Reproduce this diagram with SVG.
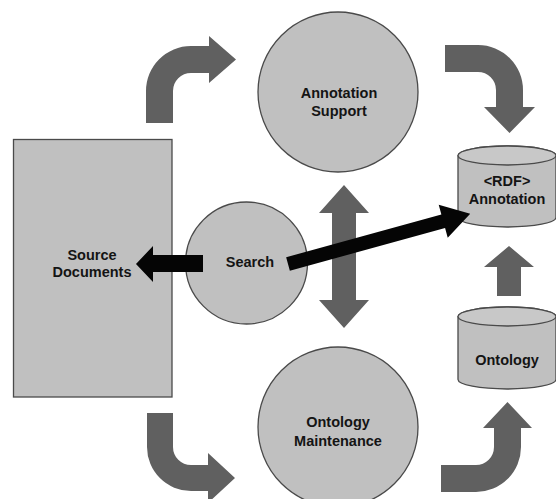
<svg xmlns="http://www.w3.org/2000/svg" width="556" height="499" viewBox="0 0 556 499">
<style>
.node{fill:#c0c0c0;stroke:#4a4a4a;stroke-width:1.3}
.top{fill:#c8c8c8;stroke:#4a4a4a;stroke-width:1.3}
.garrow{fill:#606060}
.barrow{fill:#050505}
text{font-family:"Liberation Sans",Arial,sans-serif;font-weight:bold;font-size:14.5px;fill:#141414;text-anchor:middle}
</style>
<rect x="0" y="0" width="556" height="499" fill="#ffffff"/>

<g id="source-documents">
<rect class="node" x="13.5" y="139.5" width="158.5" height="257.5"/>
<text x="92" y="260">Source</text>
<text x="92" y="277">Documents</text>
</g>

<g id="annotation-support">
<circle class="node" cx="338" cy="92" r="80"/>
<text x="339" y="98">Annotation</text>
<text x="339" y="116">Support</text>
</g>

<g id="ontology-maintenance">
<circle class="node" cx="338" cy="427" r="80"/>
<text x="338" y="427">Ontology</text>
<text x="338" y="446">Maintenance</text>
</g>

<g id="search">
<circle class="node" cx="246.5" cy="263" r="61"/>
<text x="250" y="267">Search</text>
</g>

<g id="rdf-annotation">
<path class="node" d="M458,155.5 L458,217.5 A49,9.5 0 0 0 556,217.5 L556,155.5 A49,9.5 0 0 0 458,155.5 Z"/>
<ellipse class="top" cx="507" cy="155.5" rx="49" ry="9.5"/>
<text x="507" y="186">&lt;RDF&gt;</text>
<text x="507" y="204">Annotation</text>
</g>

<g id="ontology">
<path class="node" d="M458,316.5 L458,379.5 A49,9.5 0 0 0 556,379.5 L556,316.5 A49,9.5 0 0 0 458,316.5 Z"/>
<ellipse class="top" cx="507" cy="316.5" rx="49" ry="9.5"/>
<text x="507" y="365">Ontology</text>
</g>

<g id="connectors">
<path class="garrow" d="M146,123 L146,91 A45,45 0 0 1 191,46 L209,46 L209,36 L236,59.5 L209,83 L209,73 L191,73 A18,18 0 0 0 173,91 L173,123 Z"/>
<path class="garrow" d="M445,45 L478,45 A45,45 0 0 1 523,90 L523,107 L535,107 L509.5,133 L484,107 L496,107 L496,90 A18,18 0 0 0 478,72 L445,72 Z"/>
<path class="garrow" d="M147,413 L173,413 L173,447 A18,18 0 0 0 191,465 L208,465 L208,453 L235,478 L208,503 L208,491 L191,491 A44,44 0 0 1 147,447 Z"/>
<path class="garrow" d="M441,465 L476,465 A18,18 0 0 0 494,447 L494,428 L483,428 L507.5,402 L532,428 L521,428 L521,447 A45,45 0 0 1 476,492 L441,492 Z"/>
<path class="garrow" d="M344,185 L369,213 L356,213 L356,300 L369,300 L344,328 L319,300 L332,300 L332,213 L319,213 Z"/>
<path class="garrow" d="M509,246 L534,267 L521,267 L521,296 L497,296 L497,267 L484,267 Z"/>
<path class="barrow" d="M136,264 L153,246 L153,255 L203,255 L203,272 L153,272 L153,282 Z"/>
<path class="barrow" d="M0,-7 L161,-7 L161,-17 L189,0 L161,17 L161,7 L0,7 Z" transform="translate(288,264) rotate(-15.4)"/>
</g>
</svg>
